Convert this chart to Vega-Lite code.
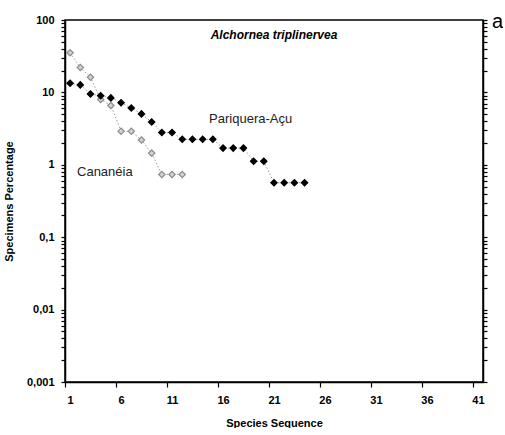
{
  "$schema": "https://vega.github.io/schema/vega-lite/v6.json",
  "autosize": {"type": "pad"},
  "padding": {"left": 3, "top": 11, "right": 0, "bottom": 0},
  "width": 418,
  "height": 362,
  "background": "white",
  "title": {"text": "Alchornea triplinervea", "fontStyle": "italic", "fontWeight": "bold", "fontSize": 12, "font": "Liberation Sans", "color": "black", "anchor": "middle", "offset": -31},
  "config": {
    "view": {"stroke": "black", "strokeWidth": 1.5}
  },
  "data": {
    "values": [
      {"seq": 1, "pct": 35.3, "site": "Cananéia"},
      {"seq": 2, "pct": 22.1, "site": "Cananéia"},
      {"seq": 3, "pct": 16.2, "site": "Cananéia"},
      {"seq": 4, "pct": 8.0, "site": "Cananéia"},
      {"seq": 5, "pct": 6.6, "site": "Cananéia"},
      {"seq": 6, "pct": 2.9, "site": "Cananéia"},
      {"seq": 7, "pct": 2.9, "site": "Cananéia"},
      {"seq": 8, "pct": 2.2, "site": "Cananéia"},
      {"seq": 9, "pct": 1.45, "site": "Cananéia"},
      {"seq": 10, "pct": 0.735, "site": "Cananéia"},
      {"seq": 11, "pct": 0.735, "site": "Cananéia"},
      {"seq": 12, "pct": 0.735, "site": "Cananéia"},
      {"seq": 1, "pct": 13.4, "site": "Pariquera-Açu"},
      {"seq": 2, "pct": 12.7, "site": "Pariquera-Açu"},
      {"seq": 3, "pct": 9.5, "site": "Pariquera-Açu"},
      {"seq": 4, "pct": 9.0, "site": "Pariquera-Açu"},
      {"seq": 5, "pct": 8.4, "site": "Pariquera-Açu"},
      {"seq": 6, "pct": 7.2, "site": "Pariquera-Açu"},
      {"seq": 7, "pct": 6.1, "site": "Pariquera-Açu"},
      {"seq": 8, "pct": 5.05, "site": "Pariquera-Açu"},
      {"seq": 9, "pct": 3.9, "site": "Pariquera-Açu"},
      {"seq": 10, "pct": 2.8, "site": "Pariquera-Açu"},
      {"seq": 11, "pct": 2.8, "site": "Pariquera-Açu"},
      {"seq": 12, "pct": 2.25, "site": "Pariquera-Açu"},
      {"seq": 13, "pct": 2.25, "site": "Pariquera-Açu"},
      {"seq": 14, "pct": 2.25, "site": "Pariquera-Açu"},
      {"seq": 15, "pct": 2.25, "site": "Pariquera-Açu"},
      {"seq": 16, "pct": 1.7, "site": "Pariquera-Açu"},
      {"seq": 17, "pct": 1.7, "site": "Pariquera-Açu"},
      {"seq": 18, "pct": 1.7, "site": "Pariquera-Açu"},
      {"seq": 19, "pct": 1.12, "site": "Pariquera-Açu"},
      {"seq": 20, "pct": 1.12, "site": "Pariquera-Açu"},
      {"seq": 21, "pct": 0.565, "site": "Pariquera-Açu"},
      {"seq": 22, "pct": 0.565, "site": "Pariquera-Açu"},
      {"seq": 23, "pct": 0.565, "site": "Pariquera-Açu"},
      {"seq": 24, "pct": 0.565, "site": "Pariquera-Açu"}
    ]
  },
  "resolve": {"axis": {"y": "independent"}},
  "layer": [
    {
      "mark": {"type": "line", "strokeDash": [1.5, 2], "strokeWidth": 1, "color": "#9a9a9a"},
      "encoding": {
        "x": {"field": "seq", "type": "quantitative", "scale": {"domain": [0.5, 41.5], "nice": false, "zero": false},
              "axis": {"values": [1, 6, 11, 16, 21, 26, 31, 36, 41], "grid": false, "tickColor": "black", "tickSize": 5, "tickWidth": 1.2, "tickOffset": -5.1, "labelOffset": 5.1, "labelPadding": 7, "domainColor": "black", "domainWidth": 1.5, "labelColor": "black", "labelFont": "Liberation Sans", "labelFontWeight": "bold", "labelFontSize": 11, "title": "Species Sequence", "titleColor": "black", "titleFont": "Liberation Sans", "titleFontWeight": "bold", "titleFontSize": 11, "titlePadding": 12}},
        "y": {"field": "pct", "type": "quantitative", "scale": {"type": "log", "domain": [0.001, 100], "nice": false},
              "axis": {"orient": "left", "grid": false, "values": [0.001,0.002,0.003,0.004,0.005,0.006,0.007,0.008,0.009,0.01,0.02,0.03,0.04,0.05,0.06,0.07,0.08,0.09,0.1,0.2,0.3,0.4,0.5,0.6,0.7,0.8,0.9,1,2,3,4,5,6,7,8,9,10,20,30,40,50,60,70,80,90,100],
                       "labelExpr": "indexof([0.001,0.01,0.1,1,10,100], datum.value) >= 0 ? replace(format(datum.value, '~g'), '.', ',') : ''",
                       "tickColor": "black", "tickSize": 4, "tickWidth": 1.2, "domainColor": "black", "domainWidth": 1.5,
                       "labelColor": "black", "labelFont": "Liberation Sans", "labelFontWeight": "bold", "labelFontSize": 11, "labelPadding": 7,
                       "title": "Specimens Percentage", "titleColor": "black", "titleFont": "Liberation Sans", "titleFontWeight": "bold", "titleFontSize": 11, "titlePadding": 12}},
        "detail": {"field": "site"}
      }
    },
    {
      "mark": {"type": "point", "shape": "diamond", "filled": true, "size": 40, "strokeWidth": 1.2},
      "encoding": {
        "x": {"field": "seq", "type": "quantitative"},
        "y": {"field": "pct", "type": "quantitative",
              "axis": {"orient": "right", "grid": false, "values": [0.001,0.002,0.003,0.004,0.005,0.006,0.007,0.008,0.009,0.01,0.02,0.03,0.04,0.05,0.06,0.07,0.08,0.09,0.1,0.2,0.3,0.4,0.5,0.6,0.7,0.8,0.9,1,2,3,4,5,6,7,8,9,10,20,30,40,50,60,70,80,90,100],
                       "labels": false, "tickColor": "black", "tickSize": 4, "tickWidth": 1.2, "domainColor": "black", "domainWidth": 1.5,
                       "title": "a", "titleAngle": 0, "titleX": 14, "titleY": 1, "titleAlign": "center", "titleBaseline": "middle", "titleFont": "Liberation Sans", "titleFontSize": 20, "titleFontWeight": "normal", "titleColor": "black"}},
        "fill": {"field": "site", "type": "nominal", "scale": {"domain": ["Cananéia", "Pariquera-Açu"], "range": ["#d2d2d2", "#000000"]}, "legend": null},
        "stroke": {"field": "site", "type": "nominal", "scale": {"domain": ["Cananéia", "Pariquera-Açu"], "range": ["#8c8c8c", "#000000"]}, "legend": null},
        "opacity": {"value": 1}
      }
    },
    {
      "transform": [{"filter": "datum.site === 'Pariquera-Açu' && datum.seq === 14"}],
      "mark": {"type": "text", "fontSize": 13, "font": "Liberation Sans", "color": "#222", "dx": 48, "dy": -20},
      "encoding": {"x": {"field": "seq", "type": "quantitative"}, "y": {"field": "pct", "type": "quantitative", "axis": null}, "text": {"field": "site"}}
    },
    {
      "transform": [{"filter": "datum.site === 'Cananéia' && datum.seq === 10"}],
      "mark": {"type": "text", "fontSize": 13, "font": "Liberation Sans", "color": "#222", "dx": -57, "dy": -2},
      "encoding": {"x": {"field": "seq", "type": "quantitative"}, "y": {"field": "pct", "type": "quantitative", "axis": null}, "text": {"field": "site"}}
    }
  ]
}
